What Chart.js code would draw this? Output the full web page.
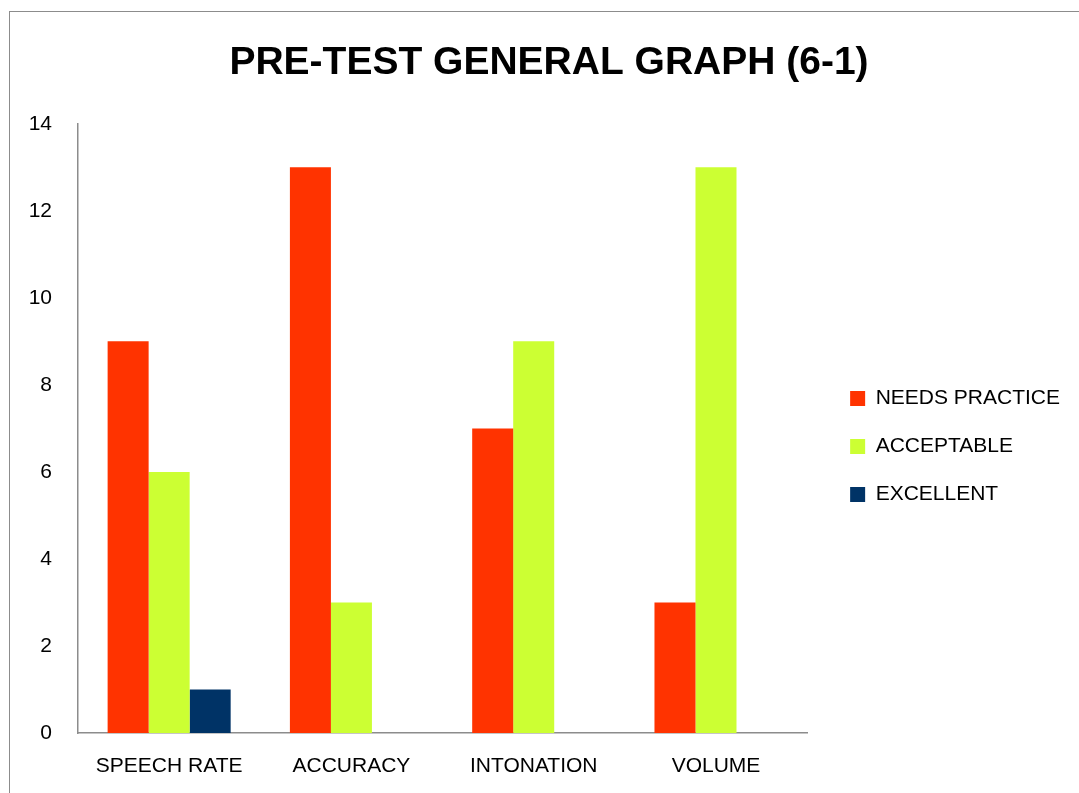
<!DOCTYPE html>
<html lang="en">
<head>
    <meta charset="UTF-8">
    <title>Pre-test general graph</title>
    <script src="https://cdn.jsdelivr.net/npm/chart.js"></script>
    <style>
        html, body { margin: 0; padding: 0; background: #fff; }
        #wrap { position: relative; width: 1079px; height: 793px; }
        #frame { position: absolute; left: 9px; top: 11px; width: 1200px; height: 900px; border: 1px solid #8c8c8c; }
        canvas { position: absolute; left: 0; top: 0; }
    </style>
</head>
<body>
    <div id="wrap">
        <div id="frame"></div>
        <canvas id="chart" width="1079" height="793"></canvas>
    </div>

    <script>
        // Données
        const categories = ['SPEECH RATE', 'ACCURACY', 'INTONATION', 'VOLUME'];
        const needsPractice = [9, 13, 7, 3];
        const acceptable = [6, 3, 9, 13];
        const excellent = [1, 0, 0, 0];
        const yTicks = [0, 2, 4, 6, 8, 10, 12, 14];

        const font = "'Liberation Sans', Arial, sans-serif";

        // décale la légende et le titre pour les placer comme dans l'original
        const layoutShift = {
            id: 'layoutShift',
            afterLayout(chart) {
                const l = chart.legend;
                l.left += 16; l.right += 16;
                l.top += 37; l.bottom += 37;
                const t = chart.titleBlock;
                t.left += 22; t.right += 22;
            }
        };

        const ctx = document.getElementById('chart').getContext('2d');
        new Chart(ctx, {
            type: 'bar',
            data: {
                labels: categories,
                datasets: [
                    { label: 'NEEDS PRACTICE', data: needsPractice, backgroundColor: '#ff3300' },
                    { label: 'ACCEPTABLE', data: acceptable, backgroundColor: '#ccff33' },
                    { label: 'EXCELLENT', data: excellent, backgroundColor: '#003366' }
                ]
            },
            plugins: [layoutShift],
            options: {
                responsive: false,
                animation: false,
                layout: { padding: { left: 0, right: 25, top: 26, bottom: 0 } },
                datasets: { bar: { categoryPercentage: 0.675, barPercentage: 1.0 } },
                plugins: {
                    title: {
                        display: true,
                        text: 'PRE-TEST GENERAL GRAPH (6-1)',
                        color: '#000',
                        font: { family: font, size: 39, weight: 'bold' },
                        padding: { top: 14, bottom: 37 }
                    },
                    legend: {
                        position: 'right',
                        labels: {
                            color: '#000',
                            font: { family: font, size: 21 },
                            boxWidth: 15,
                            boxHeight: 15,
                            padding: 27
                        }
                    },
                    tooltip: { enabled: false }
                },
                scales: {
                    x: {
                        afterFit: axis => { axis.height = 60; },
                        grid: { display: false, drawTicks: false },
                        border: { display: true, color: '#8c8c8c', width: 1.5 },
                        ticks: { color: '#000', font: { family: font, size: 21 }, padding: 21, maxRotation: 0 }
                    },
                    y: {
                        min: 0,
                        max: 14,
                        afterFit: axis => { axis.width = 78; },
                        afterBuildTicks: axis => { axis.ticks = yTicks.map(v => ({ value: v })); },
                        grid: { display: false, drawTicks: false },
                        border: { display: true, color: '#8c8c8c', width: 1.5 },
                        ticks: { color: '#000', font: { family: font, size: 21 }, padding: 26 }
                    }
                }
            }
        });
    </script>
</body>
</html>
